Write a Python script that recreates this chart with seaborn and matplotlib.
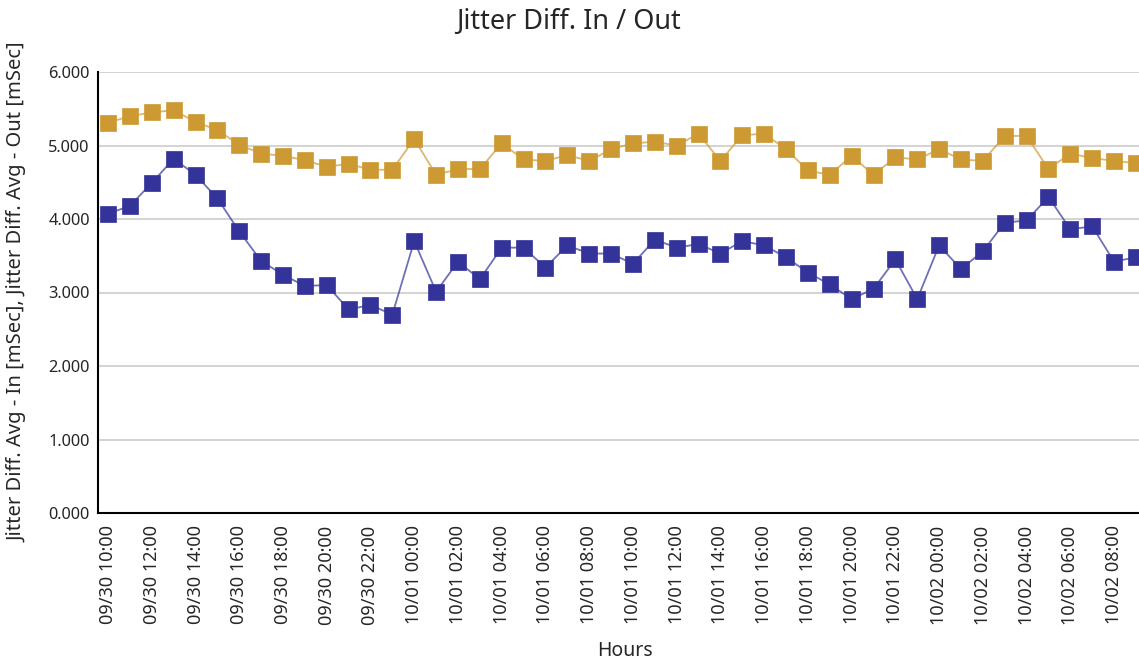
import matplotlib
matplotlib.use("Agg")
import matplotlib.pyplot as plt
import seaborn as sns
import pandas as pd
import numpy as np

# hourly samples, 09/30 10:00 -> 10/02 09:00
hours = pd.date_range("2023-09-30 10:00", periods=48, freq="h")

jitter_in = [4.07, 4.18, 4.49, 4.82, 4.60, 4.28, 3.83, 3.43, 3.24, 3.09,
             3.10, 2.77, 2.83, 2.70, 3.70, 3.01, 3.42, 3.18, 3.61, 3.61,
             3.34, 3.64, 3.53, 3.53, 3.39, 3.72, 3.61, 3.66, 3.53, 3.70,
             3.64, 3.48, 3.27, 3.11, 2.91, 3.05, 3.45, 2.91, 3.64, 3.32,
             3.56, 3.95, 3.98, 4.30, 3.86, 3.90, 3.42, 3.48]

jitter_out = [5.31, 5.40, 5.45, 5.48, 5.32, 5.21, 5.01, 4.89, 4.86, 4.80,
              4.71, 4.75, 4.67, 4.67, 5.09, 4.60, 4.68, 4.68, 5.03, 4.81,
              4.79, 4.87, 4.79, 4.95, 5.03, 5.05, 5.00, 5.16, 4.79, 5.14,
              5.16, 4.95, 4.66, 4.60, 4.86, 4.60, 4.84, 4.81, 4.95, 4.81,
              4.79, 5.13, 5.13, 4.68, 4.89, 4.83, 4.79, 4.76]

series_names = ["Jitter Diff. Avg - In", "Jitter Diff. Avg - Out"]
colors = {"Jitter Diff. Avg - In": "#333399", "Jitter Diff. Avg - Out": "#CC9933"}

df = pd.DataFrame({
    "idx": list(range(len(hours))) * 2,
    "value": jitter_in + jitter_out,
    "series": [series_names[0]] * len(hours) + [series_names[1]] * len(hours),
})

sns.set_style("white")
plt.rcParams["font.family"] = ["Noto Sans", "DejaVu Sans"]

fig = plt.figure(figsize=(11.39, 6.65), dpi=100)
ax = fig.add_axes([98 / 1139, 1 - 513 / 665, (1139 - 98) / 1139, (513 - 72) / 665])

ax.yaxis.grid(True, color="#cccccc", linewidth=1.2, zorder=0)
ax.set_axisbelow(True)

for name in series_names:
    sub = df[df["series"] == name]
    # thin, lighter connecting line
    sns.lineplot(data=sub, x="idx", y="value", ax=ax, color=colors[name],
                 linewidth=1.3, alpha=0.7, legend=False, zorder=2)
    # square markers on top
    sns.lineplot(data=sub, x="idx", y="value", ax=ax, color=colors[name],
                 linestyle="", marker="s", markersize=11.5,
                 markeredgewidth=0.5, markeredgecolor=colors[name],
                 legend=False, zorder=3)

ax.set_ylim(0, 6)
ax.set_xlim(-0.46, 47.14)
ax.set_yticks(np.arange(0, 7, 1))
ax.set_yticklabels([f"{v:.3f}" for v in np.arange(0, 7, 1)], fontsize=11.8)

tick_idx = list(range(0, len(hours), 2))
ax.set_xticks(tick_idx)
ax.set_xticklabels([hours[i].strftime("%m/%d %H:%M") for i in tick_idx],
                   rotation=90, fontsize=13)
ax.tick_params(axis="y", length=0, pad=6)
ax.tick_params(axis="x", length=0, pad=9)

for side in ["top", "right"]:
    ax.spines[side].set_visible(False)
for side in ["left", "bottom"]:
    ax.spines[side].set_color("black")
    ax.spines[side].set_linewidth(1.5)

ax.set_xlabel("")
ax.set_ylabel("")
fig.text(568 / 1139, 1 - 22 / 665, "Jitter Diff. In / Out", fontsize=19.5,
         ha="center", va="center")
fig.text(625 / 1139, 1 - 651 / 665, "Hours", fontsize=14, ha="center", va="center")
fig.text(18 / 1139, 1 - 292 / 665,
         "Jitter Diff. Avg - In [mSec], Jitter Diff. Avg - Out [mSec]",
         fontsize=14.5, rotation=90, ha="center", va="center")

plt.savefig("out.png", dpi=100)
plt.close()
